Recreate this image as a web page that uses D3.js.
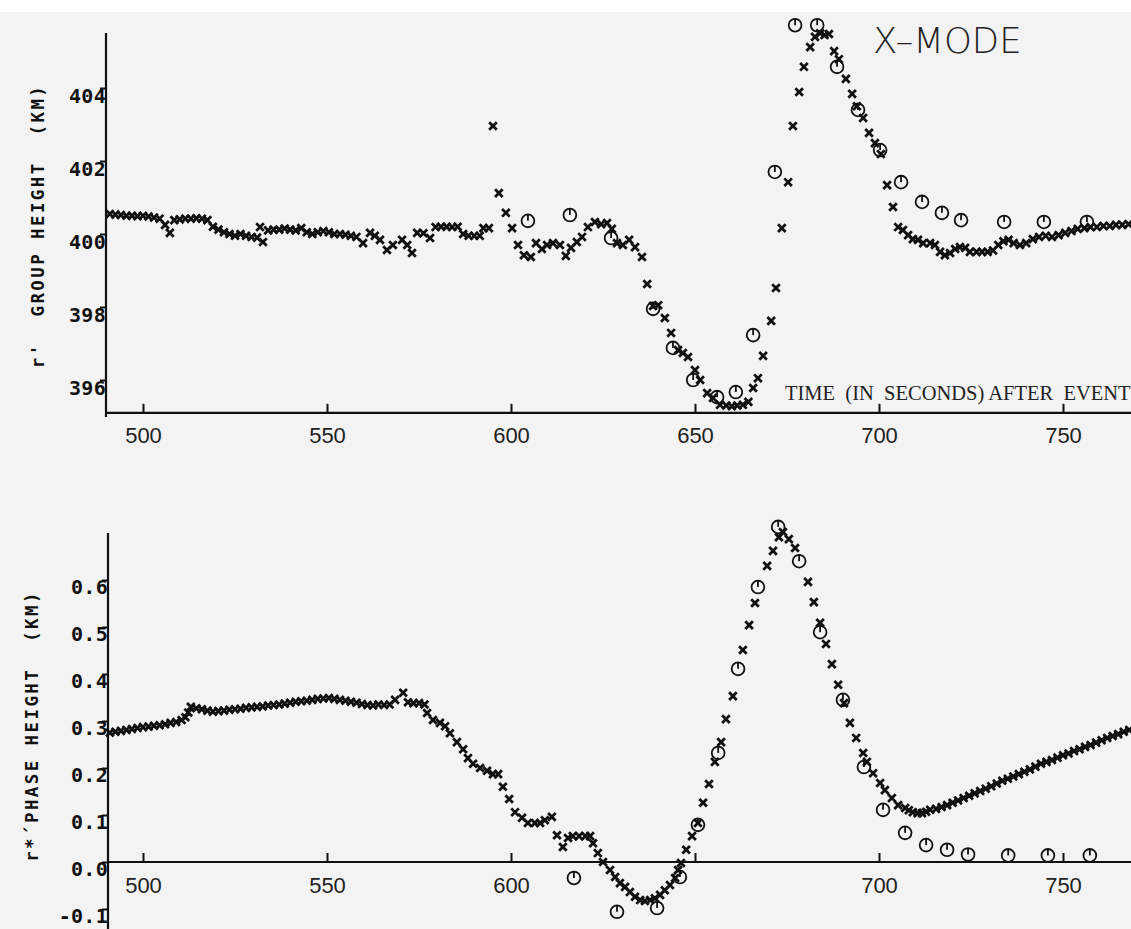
<!DOCTYPE html>
<html>
<head>
<meta charset="utf-8">
<script src="https://cdn.jsdelivr.net/npm/d3@7"></script>
<style>
  html, body { margin: 0; padding: 0; background: #f3f3f3; }
  svg { display: block; }
</style>
</head>
<body>
<svg id="chart" width="1131" height="929"></svg>
<script>
// ---------------- DATA ----------------
const timeTicks = [500, 550, 600, 650, 700, 750];
const phaseTimeLabels = [500, 550, 600, 700, 750];   // 650 is not labelled on the lower panel
const groupTicks = [396, 398, 400, 402, 404];
const phaseTicks = [-0.1, 0.0, 0.1, 0.2, 0.3, 0.4, 0.5, 0.6];

// r' group height (km), crosses
const groupCrossT = [491.0,492.5,494.0,495.5,497.0,498.5,500.0,501.5,503.0,504.5,506.0,507.3,508.5,510.0,511.5,513.0,514.5,516.0,517.5,519.0,520.5,522.0,523.5,525.0,526.5,528.0,529.5,531.0,531.8,532.6,534.0,535.5,537.0,538.5,540.0,541.5,543.0,544.5,546.0,547.5,549.0,550.5,552.0,553.5,555.0,556.5,558.0,559.8,561.7,563.0,564.4,566.3,567.9,570.4,571.8,573.1,574.5,576.2,578.0,579.5,581.0,582.5,584.0,585.5,587.0,588.5,590.0,591.5,592.5,594.0,595.1,596.7,598.6,600.3,601.9,603.5,605.4,606.8,608.4,609.8,611.4,613.3,614.9,616.3,617.9,619.3,620.9,622.8,624.5,626.1,627.4,628.8,630.4,632.1,633.7,635.6,637.0,638.6,640.0,641.8,643.5,645.4,646.7,648.1,650.0,651.4,653.3,654.9,656.8,658.5,660.0,661.5,663.0,664.5,665.8,667.1,668.5,670.7,672.0,673.6,675.3,676.6,678.3,679.6,681.3,682.6,684.0,685.2,686.4,687.8,689.1,691.0,692.7,694.0,695.7,697.3,698.9,700.5,702.2,703.8,705.2,706.5,707.9,709.2,710.6,712.0,713.9,715.2,716.6,717.9,719.3,720.7,722.0,723.4,724.7,726.5,728.0,729.5,731.0,732.4,733.8,735.2,736.6,738.3,740.0,741.8,743.5,745.3,747.0,748.8,750.6,752.3,754.0,755.8,757.5,759.2,761.0,762.7,764.4,766.1,767.8];
const groupCrossV = [400.55,400.53,400.52,400.50,400.50,400.49,400.50,400.48,400.45,400.42,400.25,400.03,400.38,400.40,400.42,400.42,400.43,400.42,400.38,400.20,400.12,400.05,400.00,399.95,400.00,399.95,399.92,399.90,400.19,399.78,400.10,400.12,400.12,400.15,400.12,400.10,400.16,400.05,400.00,400.05,400.08,400.05,400.00,400.00,399.98,399.95,399.92,399.75,400.03,399.95,399.84,399.56,399.70,399.84,399.70,399.48,400.03,400.02,399.89,400.19,400.20,400.20,400.19,400.20,400.00,399.95,399.95,399.95,400.16,400.16,402.96,401.12,400.58,400.16,399.70,399.42,399.37,399.75,399.59,399.70,399.75,399.70,399.40,399.62,399.78,399.92,400.19,400.33,400.27,400.30,400.14,399.75,399.70,399.84,399.64,399.37,398.63,398.03,398.05,397.70,397.29,396.82,396.74,396.63,396.27,396.00,395.64,395.51,395.32,395.30,395.28,395.30,395.32,395.40,395.78,396.05,396.66,397.62,398.52,400.16,401.42,402.96,403.89,404.58,405.12,405.40,405.50,405.45,405.48,405.01,404.79,404.25,403.84,403.50,403.18,402.77,402.49,402.19,401.34,400.74,400.19,400.11,399.97,399.86,399.84,399.75,399.75,399.70,399.51,399.42,399.48,399.59,399.64,399.62,399.51,399.51,399.51,399.51,399.55,399.70,399.80,399.84,399.75,399.70,399.75,399.86,399.92,399.95,399.92,399.97,400.03,400.08,400.14,400.16,400.19,400.19,400.22,400.22,400.25,400.25,400.27];

// r' group height (km), circles
const groupCircleT = [604.6,616.0,627.2,638.6,644.0,649.5,656.0,661.1,665.8,671.7,677.2,683.2,688.6,694.3,700.3,706.0,711.7,717.1,722.3,734.0,744.8,756.5];
const groupCircleV = [400.36,400.52,399.89,397.95,396.88,396.00,395.53,395.67,397.23,401.70,405.72,405.72,404.58,403.40,402.30,401.42,400.88,400.58,400.38,400.33,400.33,400.33];

// r*' phase height (km), crosses
const phaseCrossT = [491.0,492.5,494.0,495.5,497.0,498.5,500.0,501.5,503.0,504.5,506.0,507.5,509.0,510.5,511.5,512.3,513.0,514.5,516.0,517.5,519.0,520.5,522.0,523.5,525.0,526.5,528.0,529.5,531.0,532.5,534.0,535.5,537.0,538.5,540.0,541.5,543.0,544.5,546.0,547.5,549.0,550.5,552.0,553.5,555.0,556.5,558.0,559.5,561.0,562.5,564.0,565.5,567.0,568.5,570.7,572.0,573.5,575.0,576.5,577.2,578.8,580.7,582.1,583.4,585.3,587.0,588.3,589.7,591.6,593.5,595.1,596.5,597.8,599.5,601.1,603.0,604.6,606.5,607.9,609.2,611.1,612.5,614.1,615.5,616.8,618.5,620.2,621.5,622.3,623.6,625.0,626.9,628.3,629.6,631.0,632.3,633.7,635.1,636.4,637.8,639.1,640.5,641.8,643.2,644.6,645.4,646.2,647.6,649.2,650.8,652.2,653.8,655.4,657.1,658.4,660.3,663.0,664.7,666.3,669.6,671.2,672.8,673.9,675.5,677.2,680.7,682.3,684.0,685.6,687.2,688.9,690.5,692.1,693.8,695.7,696.7,698.4,700.3,701.6,703.5,705.2,707.1,708.1,709.2,710.5,711.7,712.8,713.9,715.5,717.0,718.5,720.0,721.5,723.0,724.5,726.0,727.5,729.0,730.5,732.0,733.5,735.0,736.5,738.0,739.5,741.0,742.5,744.0,745.5,747.0,748.5,750.0,751.5,753.0,754.5,756.0,757.5,759.0,760.5,762.0,763.5,765.0,766.5,768.0];
const phaseCrossV = [0.275,0.277,0.279,0.281,0.283,0.285,0.287,0.288,0.290,0.291,0.293,0.296,0.298,0.302,0.308,0.318,0.330,0.327,0.325,0.322,0.320,0.321,0.322,0.324,0.325,0.326,0.328,0.329,0.330,0.331,0.333,0.334,0.335,0.337,0.339,0.341,0.342,0.343,0.345,0.347,0.348,0.349,0.347,0.345,0.343,0.341,0.339,0.336,0.334,0.333,0.335,0.334,0.335,0.345,0.360,0.340,0.338,0.338,0.335,0.317,0.302,0.296,0.289,0.274,0.255,0.240,0.221,0.209,0.200,0.194,0.187,0.187,0.160,0.134,0.106,0.094,0.083,0.083,0.083,0.089,0.096,0.057,0.032,0.051,0.055,0.055,0.055,0.055,0.040,0.019,0.000,-0.017,-0.032,-0.045,-0.053,-0.064,-0.074,-0.081,-0.083,-0.081,-0.077,-0.070,-0.060,-0.049,-0.034,-0.017,-0.002,0.026,0.055,0.083,0.126,0.166,0.213,0.255,0.304,0.353,0.451,0.504,0.551,0.630,0.662,0.691,0.702,0.687,0.668,0.596,0.553,0.509,0.464,0.421,0.377,0.338,0.296,0.264,0.232,0.213,0.189,0.168,0.153,0.136,0.121,0.115,0.110,0.106,0.104,0.104,0.107,0.111,0.113,0.117,0.121,0.126,0.131,0.136,0.141,0.146,0.151,0.156,0.161,0.167,0.173,0.177,0.182,0.187,0.192,0.197,0.203,0.209,0.213,0.217,0.222,0.227,0.231,0.236,0.240,0.245,0.249,0.254,0.259,0.264,0.268,0.272,0.277,0.281];

// r*' phase height (km), circles
const phaseCircleT = [617.1,628.8,639.7,645.9,650.8,656.3,661.7,667.1,672.6,678.3,684.0,690.2,695.9,701.1,707.1,712.8,718.5,724.2,735.1,745.9,757.3];
const phaseCircleV = [-0.034,-0.106,-0.098,-0.032,0.079,0.232,0.411,0.585,0.713,0.640,0.489,0.345,0.202,0.111,0.062,0.036,0.026,0.016,0.014,0.014,0.014];

// ---------------- DRAWING ----------------
const svg = d3.select("#chart");
svg.append("rect").attr("x", 0).attr("y", 0).attr("width", 1131).attr("height", 12).attr("fill", "#ffffff");

const ink = "#111";
const monoFont = "'DejaVu Sans Mono', monospace";

function drawPanel(opts) {
  const g = svg.append("g");
  const x = d3.scaleLinear().domain([500, 750]).range([143, 1063]);
  const y = d3.scaleLinear().domain(opts.yDomain).range(opts.yRange);

  // axis lines
  g.append("line").attr("x1", opts.axisX).attr("x2", opts.axisX)
    .attr("y1", opts.axisTop).attr("y2", opts.axisBottom)
    .attr("stroke", ink).attr("stroke-width", 2.2);
  g.append("line").attr("x1", opts.axisX).attr("x2", 1131)
    .attr("y1", y(opts.baseValue)).attr("y2", y(opts.baseValue))
    .attr("stroke", ink).attr("stroke-width", 2.2);

  // x axis ticks + labels
  const xa = d3.axisBottom(x).tickValues(timeTicks).tickSize(-9).tickSizeOuter(0).tickPadding(15)
    .tickFormat(d => opts.xLabels.includes(d) ? d3.format("d")(d) : "");
  const gx = g.append("g").attr("transform", `translate(0,${y(opts.baseValue)})`).call(xa);
  gx.select(".domain").remove();
  gx.selectAll("line").attr("stroke", ink).attr("stroke-width", 2);
  gx.selectAll("text").attr("font-family", "'Liberation Sans', Arial, sans-serif")
    .attr("font-size", 22).attr("fill", "#222");

  // y axis ticks + labels
  const ya = d3.axisLeft(y).tickValues(opts.yTicks).tickSize(6).tickSizeOuter(0).tickFormat(opts.fmt);
  const gy = g.append("g").attr("transform", `translate(${opts.axisX},0)`).call(ya);
  gy.select(".domain").remove();
  gy.selectAll("line").attr("stroke", ink).attr("stroke-width", 2);
  gy.selectAll("text").attr("x", 0).attr("dy", opts.labelDy)
    .attr("font-family", monoFont).attr("font-weight", "bold")
    .attr("font-size", 20).attr("letter-spacing", 0.3).attr("fill", ink);

  // y title
  g.append("text")
    .attr("transform", `translate(${opts.titleX},${opts.titleY}) rotate(-90)`)
    .attr("text-anchor", "middle")
    .attr("font-family", monoFont).attr("font-weight", "bold")
    .attr("font-size", 17.5).attr("letter-spacing", 2.4)
    .attr("fill", ink)
    .style("white-space", "pre")
    .text(opts.title);

  // crosses
  const cross = "M-3.8,-3.8L3.8,3.8M-3.8,3.8L3.8,-3.8";
  g.append("g").selectAll("path").data(opts.crossT.map((t, i) => [t, opts.crossV[i]]))
    .join("path")
    .attr("transform", d => `translate(${x(d[0])},${y(d[1])})`)
    .attr("d", cross).attr("stroke", ink).attr("stroke-width", 2.8).attr("fill", "none");

  // circles with hand
  const cg = g.append("g").selectAll("g").data(opts.circT.map((t, i) => [t, opts.circV[i]]))
    .join("g")
    .attr("transform", d => `translate(${x(d[0])},${y(d[1])})`);
  cg.append("circle").attr("r", 6.4).attr("fill", "none").attr("stroke", ink).attr("stroke-width", 1.8);
  cg.append("line").attr("x1", 0).attr("x2", 0).attr("y1", -6.4).attr("y2", 0)
    .attr("stroke", ink).attr("stroke-width", 1.8);

  return { g, x, y };
}

const groupPanel = drawPanel({
  yDomain: [396, 404], yRange: [380, 88],
  axisX: 106, axisTop: 33, axisBottom: 417, baseValue: 395.1,
  yTicks: groupTicks, fmt: d3.format("d"), labelDy: "0.72em",
  xLabels: timeTicks,
  titleX: 44, titleY: 226,
  title: "r'  GROUP HEIGHT  (KM)",
  crossT: groupCrossT, crossV: groupCrossV,
  circT: groupCircleT, circV: groupCircleV
});

const phasePanel = drawPanel({
  yDomain: [0, 0.6], yRange: [862, 580],
  axisX: 108, axisTop: 533, axisBottom: 929, baseValue: 0,
  yTicks: phaseTicks, fmt: d => d.toFixed(1), labelDy: "0.66em",
  xLabels: phaseTimeLabels,
  titleX: 38, titleY: 726,
  title: "r*´PHASE HEIGHT  (KM)",
  crossT: phaseCrossT, crossV: phaseCrossV,
  circT: phaseCircleT, circV: phaseCircleV
});

// annotations
svg.append("text").attr("x", 873).attr("y", 53)
  .attr("font-family", "'DejaVu Sans', sans-serif").attr("font-weight", 200)
  .attr("font-size", 35.5).attr("fill", "#222")
  .text("X\u2013MODE");

svg.append("text").attr("x", 785).attr("y", 400)
  .attr("font-family", "'Liberation Serif', 'Times New Roman', serif")
  .attr("font-size", 20.5).attr("fill", "#222")
  .style("white-space", "pre")
  .text("TIME  (IN  SECONDS) AFTER  EVENT");
</script>
</body>
</html>
